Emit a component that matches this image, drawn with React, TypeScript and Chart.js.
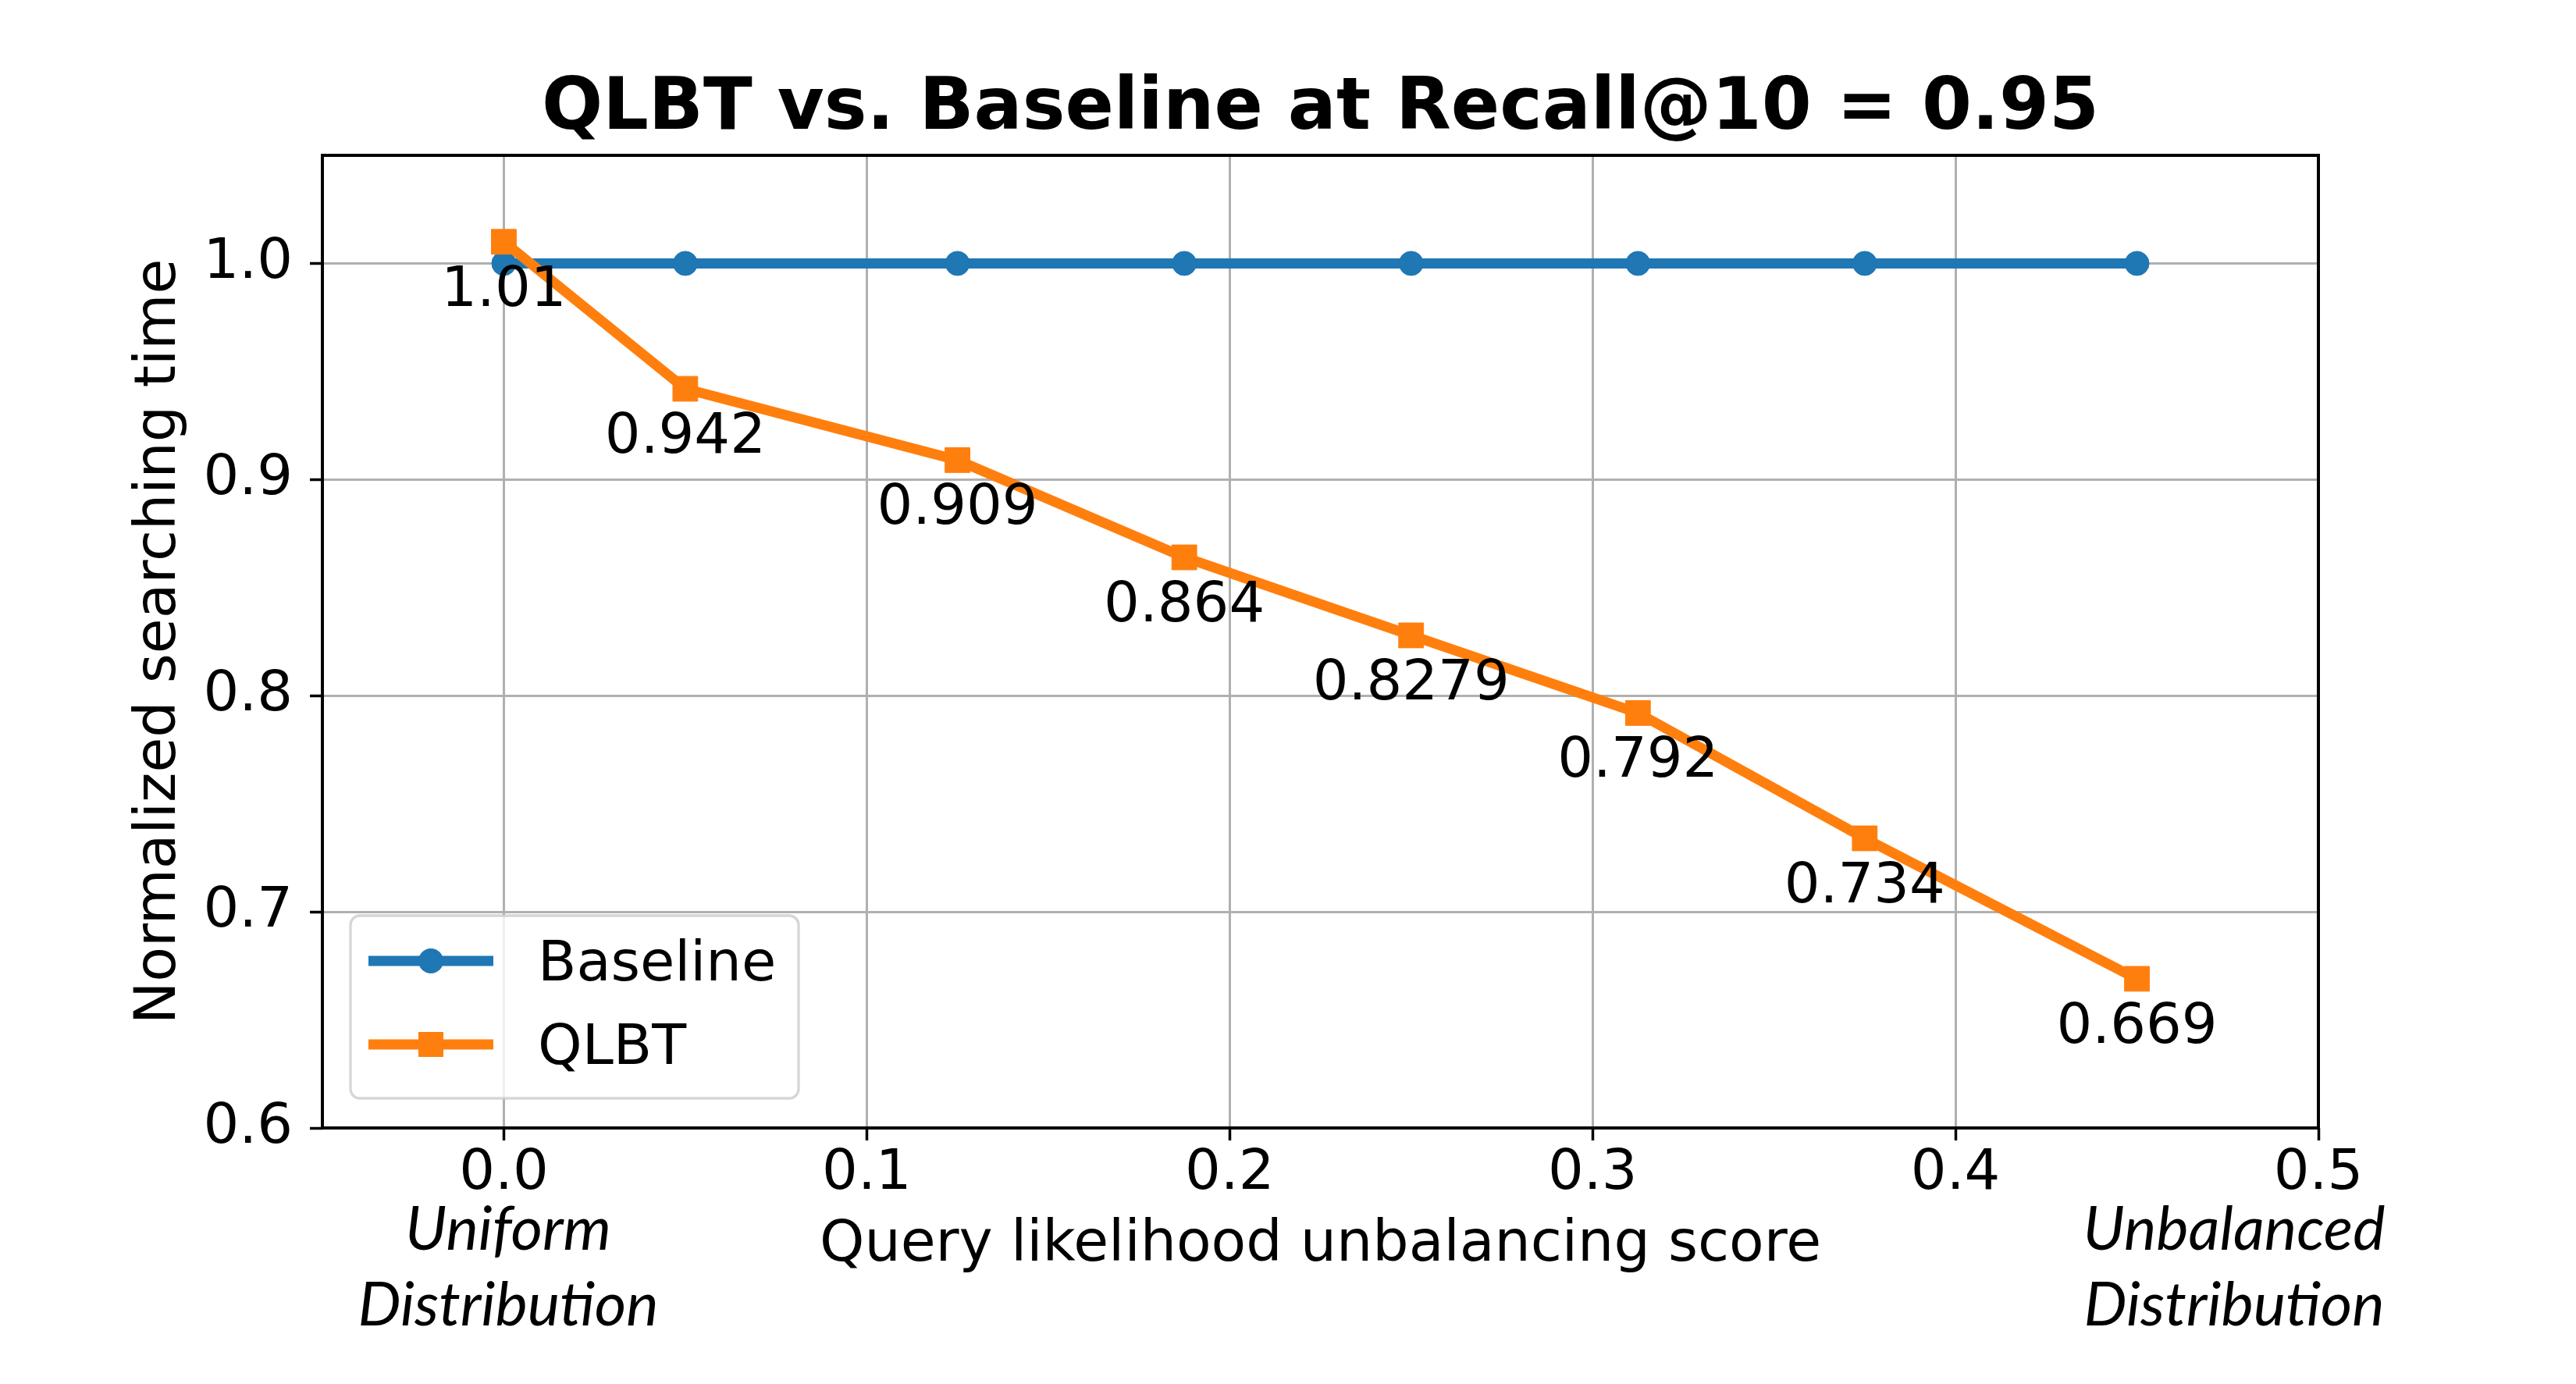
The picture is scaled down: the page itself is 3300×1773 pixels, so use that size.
import React, { useEffect, useRef } from 'react';
import { Chart, registerables } from 'chart.js';

Chart.register(...registerables);

const xValues = [0, 0.05, 0.125, 0.1875, 0.25, 0.3125, 0.375, 0.45];
const baselineValues = [1, 1, 1, 1, 1, 1, 1, 1];
const qlbtValues = [1.01, 0.942, 0.909, 0.864, 0.8279, 0.792, 0.734, 0.669];
const qlbtLabels = ['1.01', '0.942', '0.909', '0.864', '0.8279', '0.792', '0.734', '0.669'];
const xTicks = [0, 0.1, 0.2, 0.3, 0.4, 0.5];
const yTicks = [0.6, 0.7, 0.8, 0.9, 1.0];
const seriesNames = ['Baseline', 'QLBT'];
const seriesColors = ['#1f77b4', '#ff7f0e'];
const titleText = 'QLBT vs. Baseline at Recall@10 = 0.95';
const xTitle = 'Query likelihood unbalancing score';
const yTitle = 'Normalized searching time';
const leftNote = ['Uniform', 'Distribution'];
const rightNote = ['Unbalanced', 'Distribution'];

const W = 3300;
const H = 1773;
const FONT = '"DejaVu Sans", sans-serif';

const overlayPlugin = {
  id: 'overlay',
  afterDatasetsDraw(chart: any) {
    const { ctx, chartArea: ca } = chart;
    ctx.save();
    // frame (spines)
    ctx.strokeStyle = '#000';
    ctx.lineWidth = 4;
    ctx.strokeRect(ca.left, ca.top, ca.right - ca.left, ca.bottom - ca.top);
    // data labels
    const meta = chart.getDatasetMeta(1);
    ctx.fillStyle = '#000';
    ctx.font = `72px ${FONT}`;
    ctx.textAlign = 'center';
    ctx.textBaseline = 'alphabetic';
    meta.data.forEach((el: any, i: number) => {
      ctx.fillText(qlbtLabels[i], el.x, el.y + 82);
    });
    ctx.restore();
  },
  afterDraw(chart: any) {
    const { ctx, chartArea: ca } = chart;
    ctx.save();
    // italic notes below the x axis
    ctx.fillStyle = '#000';
    ctx.font = `italic 78px Lato, "Open Sans", sans-serif`;
    ctx.textAlign = 'center';
    ctx.textBaseline = 'alphabetic';
    const lx = ca.left + 238;
    const rx = ca.right - 108;
    ctx.fillText(leftNote[0], lx, ca.bottom + 156);
    ctx.fillText(leftNote[1], lx, ca.bottom + 253);
    ctx.fillText(rightNote[0], rx, ca.bottom + 156);
    ctx.fillText(rightNote[1], rx, ca.bottom + 253);

    // legend
    const bx = ca.left + 36;
    const bw = 574;
    const bh = 234;
    const by = ca.bottom - 38 - bh;
    ctx.beginPath();
    (ctx as any).roundRect(bx, by, bw, bh, 12);
    ctx.fillStyle = 'rgba(255,255,255,0.8)';
    ctx.fill();
    ctx.strokeStyle = 'rgba(204,204,204,0.8)';
    ctx.lineWidth = 3.3;
    ctx.stroke();
    const rows = [by + 58, by + 165];
    rows.forEach((y, i) => {
      const x0 = bx + 23;
      const x1 = bx + 183;
      const xm = (x0 + x1) / 2;
      ctx.strokeStyle = seriesColors[i];
      ctx.lineWidth = 13;
      ctx.lineCap = 'butt';
      ctx.beginPath();
      ctx.moveTo(x0, y);
      ctx.lineTo(x1, y);
      ctx.stroke();
      ctx.fillStyle = seriesColors[i];
      if (i === 0) {
        ctx.beginPath();
        ctx.arc(xm, y, 16, 0, Math.PI * 2);
        ctx.fill();
      } else {
        ctx.fillRect(xm - 16, y - 16, 32, 32);
      }
      ctx.fillStyle = '#000';
      ctx.font = `72px ${FONT}`;
      ctx.textAlign = 'left';
      ctx.textBaseline = 'alphabetic';
      ctx.fillText(seriesNames[i], bx + 240, y + 25);
    });
    ctx.restore();
  },
};

export default function App() {
  const ref = useRef<HTMLCanvasElement | null>(null);

  useEffect(() => {
    const canvas = ref.current;
    if (!canvas) return;
    const chart = new Chart(canvas, {
      type: 'line',
      data: {
        datasets: [
          {
            label: seriesNames[0],
            data: xValues.map((x, i) => ({ x, y: baselineValues[i] })),
            borderColor: seriesColors[0],
            backgroundColor: seriesColors[0],
            borderWidth: 13,
            pointStyle: 'circle',
            pointRadius: 15.5,
            pointBorderWidth: 1,
            pointBackgroundColor: seriesColors[0],
            pointBorderColor: seriesColors[0],
            tension: 0,
            order: 2,
          },
          {
            label: seriesNames[1],
            data: xValues.map((x, i) => ({ x, y: qlbtValues[i] })),
            borderColor: seriesColors[1],
            backgroundColor: seriesColors[1],
            borderWidth: 13,
            pointStyle: 'rect',
            pointRadius: 22.5,
            pointBorderWidth: 1,
            pointBackgroundColor: seriesColors[1],
            pointBorderColor: seriesColors[1],
            tension: 0,
            order: 1,
          },
        ],
      },
      options: {
        responsive: false,
        animation: false,
        devicePixelRatio: 1,
        layout: { padding: { left: 0, right: 330, top: 0, bottom: 0 } },
        plugins: {
          legend: { display: false },
          tooltip: { enabled: false },
          title: {
            display: true,
            text: titleText,
            fullSize: false,
            color: '#000',
            font: { family: FONT, size: 92, weight: 'bold', lineHeight: 1.2 },
            padding: { top: 86, bottom: 2.6 },
          },
        },
        scales: {
          x: {
            type: 'linear',
            min: -0.05,
            max: 0.5,
            afterBuildTicks: (scale: any) => {
              scale.ticks = xTicks.map((v) => ({ value: v }));
            },
            afterFit: (scale: any) => {
              scale.height = 328;
              scale.paddingLeft = 0;
              scale.paddingRight = 0;
            },
            ticks: {
              color: '#000',
              font: { family: FONT, size: 72, lineHeight: 1.2 },
              padding: 0,
              maxRotation: 0,
              autoSkip: false,
              callback: (v: any) => Number(v).toFixed(1),
            },
            grid: {
              color: '#b0b0b0',
              lineWidth: 3,
              drawTicks: true,
              tickLength: 16,
              tickColor: '#000',
              tickWidth: 3.5,
            },
            border: { display: false },
            title: {
              display: true,
              text: xTitle,
              color: '#000',
              font: { family: FONT, size: 73, lineHeight: 1.2 },
              padding: { top: 0, bottom: 133 },
            },
          },
          y: {
            type: 'linear',
            min: 0.6,
            max: 1.05,
            afterBuildTicks: (scale: any) => {
              scale.ticks = yTicks.map((v) => ({ value: v }));
            },
            afterFit: (scale: any) => {
              scale.width = 413;
              scale.paddingTop = 0;
              scale.paddingBottom = 0;
            },
            ticks: {
              color: '#000',
              font: { family: FONT, size: 72, lineHeight: 1.2 },
              padding: 22,
              autoSkip: false,
              callback: (v: any) => Number(v).toFixed(1),
            },
            grid: {
              color: '#b0b0b0',
              lineWidth: 3,
              drawTicks: true,
              tickLength: 16,
              tickColor: '#000',
              tickWidth: 3.5,
            },
            border: { display: false },
            title: {
              display: true,
              text: yTitle,
              color: '#000',
              font: { family: FONT, size: 73, lineHeight: 1.2 },
              padding: { top: 161, bottom: 0 },
            },
          },
        },
      },
      plugins: [overlayPlugin],
    } as any);
    return () => chart.destroy();
  }, []);

  return (
    <div style={{ position: 'fixed', left: 0, top: 0, width: W, height: H, background: '#fff' }}>
      <canvas ref={ref} width={W} height={H} style={{ width: W, height: H, display: 'block' }} />
    </div>
  );
}
